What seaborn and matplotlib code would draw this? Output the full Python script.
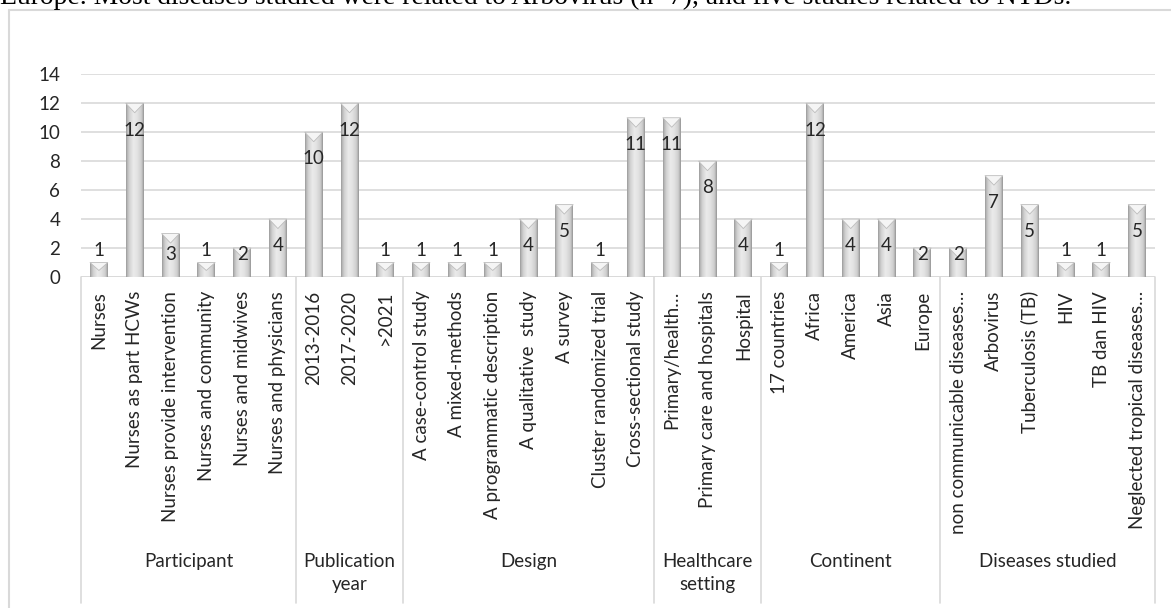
import numpy as np
import pandas as pd
import matplotlib
matplotlib.use("Agg")
import matplotlib.pyplot as plt
import matplotlib.transforms as mtransforms
from matplotlib.patches import Polygon
from matplotlib.lines import Line2D
import seaborn as sns

# ---- data -------------------------------------------------------------
participant = ["Nurses", "Nurses as part HCWs", "Nurses provide intervention",
               "Nurses and community", "Nurses and midwives", "Nurses and physicians"]
participant_n = [1, 12, 3, 1, 2, 4]

pub_year = ["2013-2016", "2017-2020", ">2021"]
pub_year_n = [10, 12, 1]

design = ["A case-control study", "A mixed-methods", "A programmatic description",
          "A qualitative  study", "A survey", "Cluster randomized trial",
          "Cross-sectional study"]
design_n = [1, 1, 1, 4, 5, 1, 11]

setting = ["Primary/health\u2026", "Primary care and hospitals", "Hospital"]
setting_n = [11, 8, 4]

continent = ["17 countries", "Africa", "America", "Asia", "Europe"]
continent_n = [1, 12, 4, 4, 2]

disease = ["non communicable diseases\u2026", "Arbovirus", "Tuberculosis (TB)",
           "HIV", "TB dan HIV", "Neglected tropical diseases\u2026"]
disease_n = [2, 7, 5, 1, 1, 5]

group_names = ["Participant", "Publication\nyear", "Design",
               "Healthcare\nsetting", "Continent", "Diseases studied"]

caption = ("Europe. Most diseases studied were related to Arbovirus (n=7), "
           "and five studies related to NTDs.")

# ---- tidy table -------------------------------------------------------
blocks = [(participant, participant_n), (pub_year, pub_year_n), (design, design_n),
          (setting, setting_n), (continent, continent_n), (disease, disease_n)]
rows = []
for g, (labels, counts) in zip(group_names, blocks):
    for lab, n in zip(labels, counts):
        rows.append({"group": g, "label": lab, "n": n})
df = pd.DataFrame(rows)
order = list(df["label"])

# ---- style ------------------------------------------------------------
sns.set_style("white")
plt.rcParams["font.family"] = ["Lato", "DejaVu Sans"]
TEXT = "#262626"
GRID = "#d9d9d9"

W, H = 1171, 608
fig = plt.figure(figsize=(W / 100, H / 100), dpi=100)
ax_left, ax_right, ax_top, ax_bottom = 81, 1155, 74.3, 277
ax = fig.add_axes([ax_left / W, 1 - ax_bottom / H,
                   (ax_right - ax_left) / W, (ax_bottom - ax_top) / H])

sns.barplot(data=df, x="label", y="n", order=order, color="#cfcfcf",
            width=0.5, saturation=1, ax=ax, zorder=3)

ax.set_xlim(-0.5, len(order) - 0.5)
ax.set_ylim(0, 14)
ax.set_yticks(np.arange(0, 15, 2))
ax.set_xlabel("")
ax.set_ylabel("")
for s in ax.spines.values():
    s.set_visible(False)
ax.grid(axis="y", color=GRID, lw=1.2, zorder=0)
ax.set_axisbelow(True)
ax.axhline(0, color=GRID, lw=1.2, zorder=1)

fs = 13.5
ax.tick_params(axis="y", length=0, pad=15, labelsize=fs, labelcolor=TEXT)
ax.tick_params(axis="x", length=0, pad=10, labelsize=fs, labelcolor=TEXT)
ax.set_xticks(range(len(order)))
ax.set_xticklabels(order, rotation=90, ha="center", va="top")

# ---- shaded cylinders with bevelled tops ------------------------------
stops = [0.0, 0.07, 0.2, 0.42, 0.62, 0.85, 0.94, 1.0]
tones = [0.60, 0.72, 0.83, 0.92, 0.89, 0.81, 0.70, 0.58]
xs = np.linspace(0, 1, 64)
grad = np.interp(xs, stops, tones)[None, :]
px_per_unit = (ax_bottom - ax_top) / 14
for patch in list(ax.patches):
    x0, w, h = patch.get_x(), patch.get_width(), patch.get_height()
    patch.set_facecolor("none")
    patch.set_edgecolor("none")
    img = ax.imshow(grad, extent=[x0, x0 + w, 0, h], aspect="auto",
                    cmap="gray", vmin=0, vmax=1, zorder=3, interpolation="bilinear")
    img.set_clip_path(patch)
    d = min(9.5 / px_per_unit, 0.55 * h)
    tri = Polygon([[x0, h], [x0 + w, h], [x0 + w / 2, h - d]], closed=True,
                  facecolor="#f5f5f5", edgecolor="#bdbdbd", lw=0.6, zorder=4)
    ax.add_patch(tri)
ax.set_xlim(-0.5, len(order) - 0.5)
ax.set_ylim(0, 14)

# ---- value labels -----------------------------------------------------
for i, v in enumerate(df["n"]):
    if v == 1:
        y = 1.85
    else:
        y = max(v - 1.85, 1.56)
    ax.text(i, y, f"{v}", ha="center", va="center", fontsize=fs,
            color=TEXT, zorder=5)

# ---- multi-level category axis ---------------------------------------
trans = mtransforms.blended_transform_factory(ax.transData, ax.transAxes)
ax_h = ax_bottom - ax_top
sep_bottom = -(603 - ax_bottom) / ax_h
bounds = np.cumsum([0] + [len(b[0]) for b in blocks])
for k in bounds:
    ax.plot([k - 0.5, k - 0.5], [0, sep_bottom], transform=trans,
            color=GRID, lw=1.2, clip_on=False, zorder=1)
label_top = -(553 - ax_bottom) / ax_h
for g, a, b in zip(group_names, bounds[:-1], bounds[1:]):
    ax.text((a + b - 1) / 2, label_top, g, transform=trans, ha="center",
            va="top", fontsize=fs, color=TEXT, linespacing=1.4)

# ---- chart frame and caption ------------------------------------------
fig.add_artist(Line2D([8.5 / W, 8.5 / W], [1 - 9.5 / H, 0], transform=fig.transFigure,
                      color=GRID, lw=1.5))
fig.add_artist(Line2D([8.5 / W, 1], [1 - 9.5 / H, 1 - 9.5 / H], transform=fig.transFigure,
                      color=GRID, lw=1.5))
cap = fig.text(0.0, 1 - 4.5 / H, caption, family="Liberation Serif", fontsize=15,
               color="black", va="baseline", ha="left")
fig.canvas.draw()
width_px = cap.get_window_extent().width
cap.set_fontsize(15 * 1078 / width_px)

fig.savefig("out.png", dpi=100, facecolor="white")
